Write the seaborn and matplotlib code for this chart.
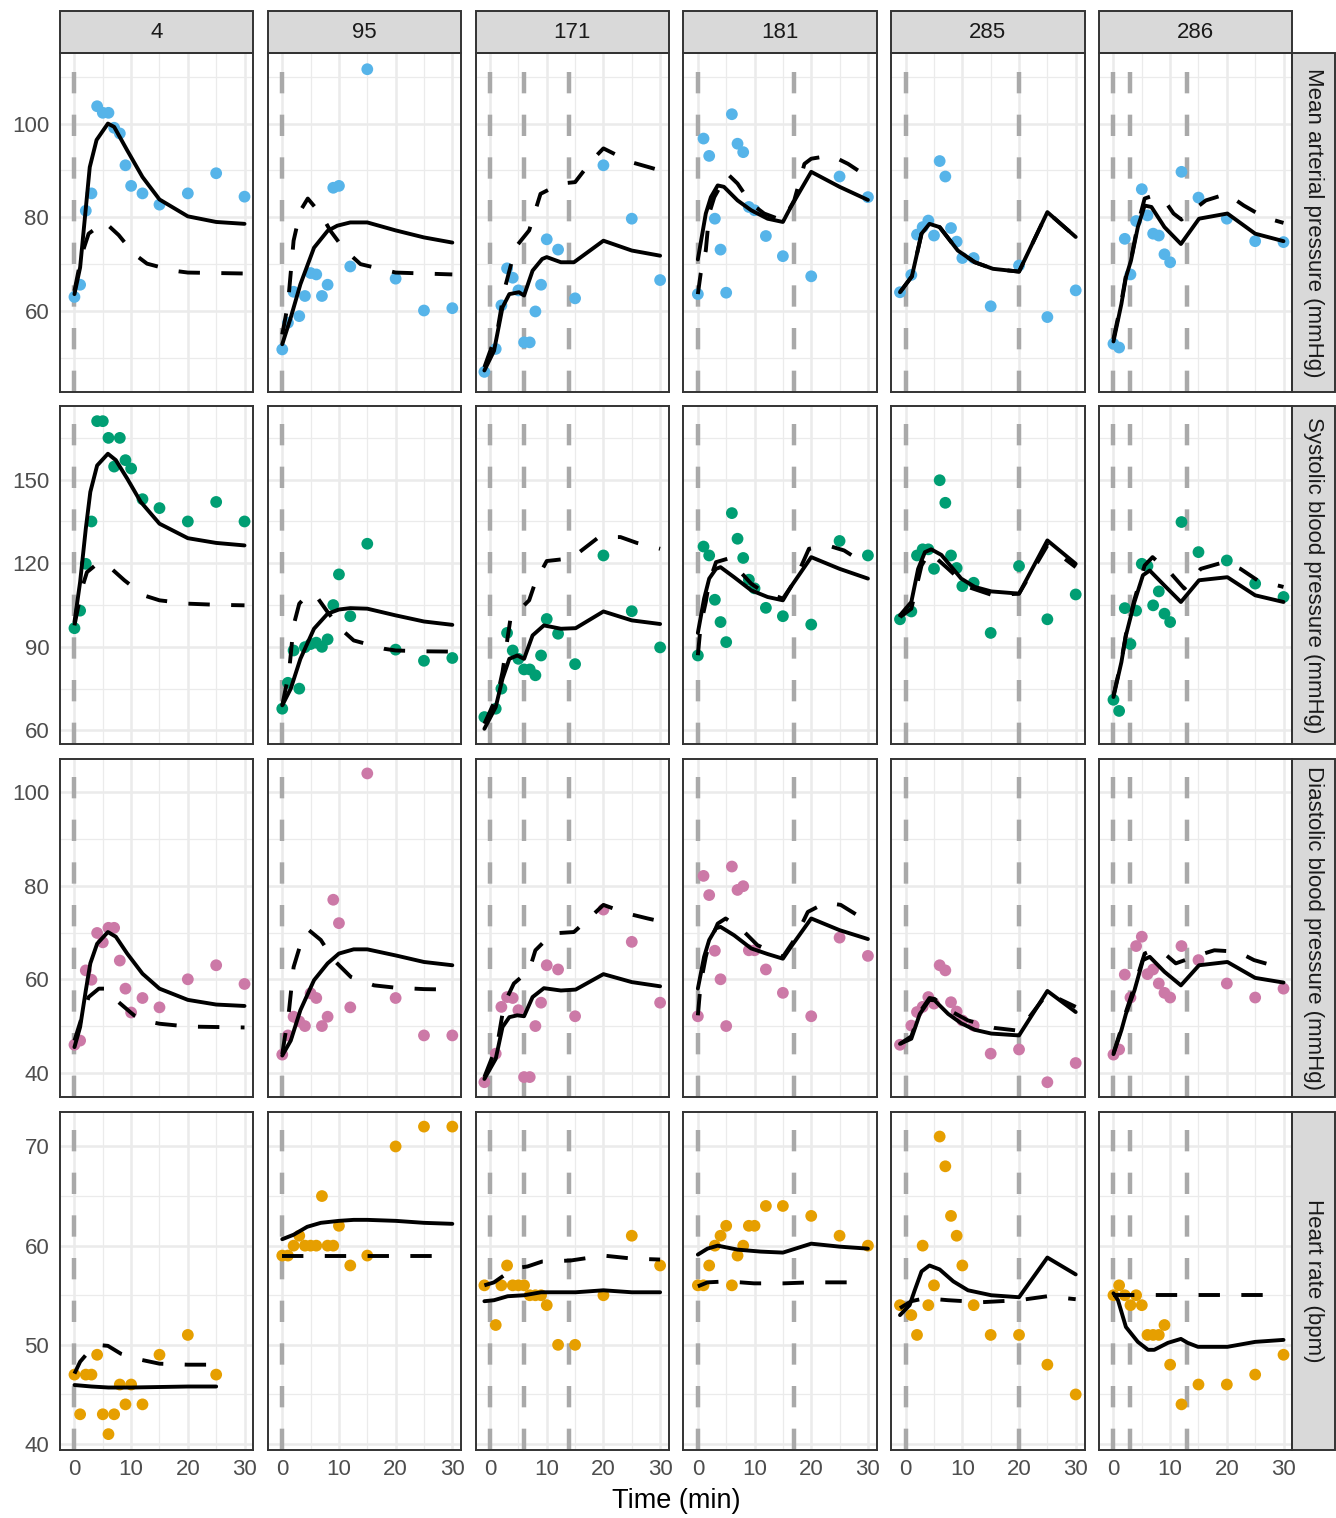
import numpy as np
import pandas as pd
import seaborn as sns
import matplotlib.pyplot as plt
from matplotlib.patches import Rectangle

# subjects (columns) and measures (rows)
subjects = ['4', '95', '171', '181', '285', '286']
measures = ['Mean arterial pressure (mmHg)', 'Systolic blood pressure (mmHg)',
            'Diastolic blood pressure (mmHg)', 'Heart rate (bpm)']
point_colors = ['#56B4E9', '#009E73', '#CC79A7', '#E69F00']

# observation times
t_std = [0, 1, 2, 3, 4, 5, 6, 7, 8, 9, 10, 12, 15, 20, 25, 30]
t_early = [-1, 1, 2, 3, 4, 5, 6, 7, 8, 9, 10, 12, 15, 20, 25, 30]
obs_times = {'4': t_std, '95': t_std, '171': t_early, '181': t_std, '285': t_early, '286': t_std}
hr4_times = [0, 1, 2, 3, 4, 5, 6, 7, 8, 9, 10, 12, 15, 20, 25]

# dosing times (grey dashed verticals)
dose_times = {'4': [0], '95': [0], '171': [0, 6, 14], '181': [0, 17], '285': [0, 20], '286': [0, 3, 13]}

# observed values
map_obs = {
    '4': [63.0, 65.6, 81.4, 85.1, 103.7, 102.3, 102.3, 99.1, 97.9, 91.1, 86.7, 85.1, 82.7, 85.1, 89.4, 84.4],
    '95': [51.8, 57.5, 64.1, 58.9, 63.2, 68.1, 67.8, 63.2, 65.6, 86.3, 86.7, 69.5, 111.6, 66.9, 60.1, 60.6],
    '171': [47.0, 51.9, 61.2, 69.1, 67.1, 64.4, 53.3, 53.3, 59.9, 65.6, 75.3, 73.1, 62.7, 91.1, 79.7, 66.6],
    '181': [63.6, 96.8, 93.1, 79.7, 73.1, 63.9, 102.0, 95.7, 93.9, 82.2, 81.5, 76.0, 71.7, 67.4, 88.7, 84.3],
    '285': [64.0, 67.7, 76.3, 77.9, 79.3, 76.1, 92.0, 88.7, 77.7, 74.8, 71.3, 71.3, 61.0, 69.7, 58.7, 64.4],
    '286': [53.0, 52.2, 75.4, 67.8, 79.2, 86.0, 80.4, 76.5, 76.1, 72.1, 70.4, 89.7, 84.2, 79.7, 74.9, 74.7],
}
sbp_obs = {
    '4': [96.7, 103, 119.8, 135, 171, 171, 165, 154.7, 165, 157, 154, 143, 139.8, 135, 142, 135],
    '95': [67.8, 77.1, 88.7, 75, 89.9, 91, 91.5, 90, 92.7, 105, 116, 101, 127, 89, 85, 86],
    '171': [64.8, 67.8, 75, 95, 88.7, 85.7, 81.9, 81.9, 79.8, 86.9, 100, 94.7, 83.8, 122.8, 102.8, 89.8],
    '181': [86.9, 126, 122.8, 106.9, 98.9, 91.7, 138, 128.8, 121.9, 114.1, 111, 104, 101, 98, 128, 122.8],
    '285': [99.9, 102.7, 122.8, 125, 125, 118, 149.8, 141.7, 122.8, 118.3, 111.8, 113, 95, 119, 99.9, 108.8],
    '286': [71, 67, 103.9, 91, 103, 119.8, 119, 104.9, 109.9, 101.9, 98.9, 134.8, 124, 121, 112.7, 107.9],
}
dbp_obs = {
    '4': [46, 46.9, 61.9, 59.9, 69.9, 67.9, 71, 71, 64, 58, 52.9, 56, 54, 60, 63, 59],
    '95': [43.9, 48, 52, 51, 50, 57, 56, 50, 52, 77, 72, 54, 104, 56, 48, 48],
    '171': [38, 44.1, 54.1, 56.2, 56, 53.4, 39.1, 39.1, 50, 55, 63, 62.1, 52.1, 74.9, 68, 55],
    '181': [52.1, 82.1, 78, 66.1, 60, 50, 84.1, 79.1, 79.9, 66.2, 66.2, 62.1, 57.1, 52.1, 68.9, 65],
    '285': [46, 50.1, 53, 54.1, 56.2, 54.8, 63, 61.9, 55.1, 53.1, 51.2, 50.1, 44.1, 45, 38, 42.1],
    '286': [43.9, 45, 61, 56.1, 67.1, 69.1, 61.1, 62.1, 59.1, 57.1, 56.1, 67.1, 64.1, 59.1, 56.1, 58],
}
hr_obs = {
    '4': [47, 43, 47, 47, 49, 43, 41, 43, 46, 44, 46, 44, 49, 51, 47],
    '95': [59, 59, 60, 61, 60, 60, 60, 65, 60, 60, 62, 58, 59, 70, 72, 72],
    '171': [56, 52, 56, 58, 56, 56, 56, 55, 55, 55, 54, 50, 50, 55, 61, 58],
    '181': [56, 56, 58, 60, 61, 62, 56, 59, 60, 62, 62, 64, 64, 63, 61, 60],
    '285': [54, 53, 51, 60, 54, 56, 71, 68, 63, 61, 58, 54, 51, 51, 48, 45],
    '286': [55, 56, 55, 54, 55, 54, 51, 51, 51, 52, 48, 44, 46, 46, 47, 49],
}

# model predictions: solid = individual fit, dashed = population fit  (time, value)
map_solid = {
    '4': ([0, 1, 2.7, 3.9, 5.9, 7, 9.3, 12, 15, 20, 25, 30],
          [63.6, 69.3, 90.7, 96.5, 100, 99.3, 94.3, 88.6, 83.8, 80.2, 79, 78.6]),
    '95': ([0, 1.5, 3.2, 5.6, 8, 9.7, 12, 15, 20, 25, 30],
           [52.9, 58.6, 65.7, 73.5, 77.1, 78.2, 78.9, 78.9, 77.2, 75.7, 74.6]),
    '171': ([-1, 0.7, 2.2, 3.4, 5.1, 6, 7.5, 9.2, 10, 12.5, 14.8, 20, 25, 30],
            [47.3, 51.5, 60.8, 63.6, 64, 63.3, 68.6, 71.1, 71.5, 70.4, 70.4, 75, 72.9, 71.8]),
    '181': ([0, 1.4, 2.3, 3.5, 4.6, 7, 9.4, 12.3, 15, 16.4, 20, 25, 30],
            [71, 80.8, 84.3, 86.8, 86.5, 83.6, 81.5, 79.7, 79, 82.2, 89.7, 86.5, 83.7]),
    '285': ([-1, 1.1, 2.8, 4.2, 6, 9.2, 12.2, 15.4, 20, 25, 30],
            [64, 67.4, 76.5, 78.6, 77.9, 72.9, 70.4, 69, 68.4, 81.1, 75.8]),
    '286': ([0, 1.4, 2.2, 3.1, 4.3, 5.5, 6.7, 9, 11.9, 15.1, 20.1, 25, 30],
            [53.5, 61.5, 67.2, 70.8, 77.9, 82.5, 82.2, 77.9, 74.3, 79.7, 80.8, 76.5, 74.9]),
}
map_dashed = {
    '4': ([0, 1.3, 2.5, 5.3, 7.8, 10.5, 12.8, 17.5, 20, 25, 30],
          [64.3, 72.1, 76.5, 79, 76.2, 72.2, 70.1, 68.6, 68.2, 68.1, 68]),
    '95': ([0, 1, 2, 3.2, 4.5, 6.8, 8.5, 10.9, 13.8, 20, 25, 30],
           [55, 61.4, 75, 81.4, 84, 80.7, 77.1, 73.2, 70, 68.2, 68, 67.8]),
    '171': ([-1, 1.3, 2.5, 4.5, 6.9, 8.9, 12.5, 15, 18, 20, 24.8, 28, 30],
            [48, 55.8, 64.4, 73.6, 77.2, 85, 87.2, 87.5, 92.2, 94.7, 91.8, 90.7, 90]),
    '181': ([0, 0.5, 1.4, 2, 2.9, 5.2, 7, 9.4, 11.7, 15, 17, 18.8, 20, 23.5, 26.5, 30],
            [63.6, 68, 72.9, 80.8, 84.3, 89.3, 87.2, 82.9, 80.8, 79.3, 83.6, 91.4, 92.5, 93.2, 91.4, 88.6]),
    '285': ([-1, 1.1, 2.8, 4.2, 6, 9.2, 12.2, 15.4, 20, 25, 30],
            [64, 67.4, 76.5, 78.6, 77.9, 72.9, 70.4, 69, 68.4, 81.1, 75.8]),
    '286': ([0, 1.4, 2.2, 3.1, 4.3, 5.5, 6.7, 9, 10.6, 12, 13.6, 16.3, 20, 23, 26.6, 30],
            [54, 62, 67.5, 71, 78.5, 84, 84.5, 83.6, 80.8, 79.5, 81.1, 83.6, 85, 82.5, 80, 78.8]),
}
sbp_solid = {
    '4': ([0, 1, 2, 2.8, 4, 5.9, 7.3, 9.3, 11.7, 15, 20, 25, 30],
          [98.9, 113.3, 132.4, 145.6, 155.1, 159.3, 157, 150.4, 142, 134.2, 129, 127.3, 126.4]),
    '95': ([0, 1.5, 3.2, 5.6, 8, 10, 12, 15, 20, 25, 30],
           [69, 75, 85.7, 96.5, 101.9, 103.4, 103.9, 103.7, 101.3, 99.1, 97.9]),
    '171': ([-1, 1, 2.2, 3.4, 4.8, 6, 7.5, 9.5, 12.5, 15.1, 20, 25, 30],
            [60.6, 68.4, 78.6, 85.7, 86.9, 85.7, 94.1, 97.7, 96.5, 96.7, 102.7, 99.5, 98.2]),
    '181': ([0, 1.1, 2, 3.2, 4, 6.4, 9.4, 12.3, 15, 16.4, 20, 25, 30],
            [95, 107.3, 114.5, 118, 118.6, 115, 110.3, 107.9, 106.7, 111.5, 122.2, 118, 114.5]),
    '285': ([-1, 1, 2.2, 3.4, 4.5, 6.3, 9.8, 12.2, 15.1, 20, 25, 30],
            [101.3, 106.1, 118, 124, 125, 123, 114.5, 111.5, 109.9, 109.1, 128.2, 119.8]),
    '286': ([0, 1.4, 2.2, 3.7, 5.2, 6.4, 9, 11.9, 15.1, 20.1, 25, 30],
            [72, 84.5, 94.1, 106.1, 115.7, 117.4, 112, 106.1, 113.9, 115, 108.5, 106.1]),
}
sbp_dashed = {
    '4': ([0, 1.3, 2.2, 4, 5.9, 8.8, 12.2, 15, 20, 25, 30],
          [97.7, 110.9, 116.8, 119.8, 119.2, 113.9, 108.5, 106.7, 105.5, 105.1, 104.9]),
    '95': ([0, 1.2, 2, 3, 4.4, 5.9, 8, 10.3, 12.6, 18, 20, 25, 30],
           [69, 81, 97.7, 105.5, 108.5, 108.5, 102.5, 96.5, 92.3, 89.3, 88.7, 88.4, 88.3]),
    '171': ([-1, 1.3, 2.2, 3.6, 6.9, 8, 10, 13.5, 15, 19.2, 23, 25.9, 30],
            [62.4, 72.6, 81, 100.1, 106.7, 113.3, 120.8, 121.6, 122.8, 129.4, 129.4, 127.3, 125.2]),
    '181': ([0, 0.5, 1.4, 2, 3.2, 5.2, 7, 9.4, 11.1, 15, 17, 19.6, 22.9, 25.8, 30],
            [87, 97.7, 106.1, 113.3, 120.4, 121.6, 118, 112.7, 110.3, 107.3, 113.3, 125.2, 126.4, 124.6, 119.2]),
    '285': ([-1, 1, 2.8, 4.2, 7.5, 11, 15.4, 20, 25, 30],
            [100.7, 103.7, 119.2, 124, 118, 111.5, 108.5, 109.1, 126.4, 118.6]),
    '286': ([0, 1.4, 2.2, 3.7, 5.5, 6.9, 10.2, 12.5, 15.4, 19.5, 22.4, 25.4, 30],
            [72.5, 85, 94.5, 107, 119.2, 122.2, 116.2, 110.9, 118, 120.4, 118, 113.9, 111.5]),
}
dbp_solid = {
    '4': ([0, 1, 2, 2.8, 4, 5.9, 7.3, 9.3, 12, 15, 20, 25, 30],
          [45.5, 49.8, 57.6, 63.4, 67.6, 70.1, 69.1, 65.5, 61.2, 58, 55.6, 54.6, 54.3]),
    '95': ([0, 1.5, 3.2, 5.6, 8, 10, 12.6, 15, 20, 25, 30],
           [43.7, 46.9, 53.4, 59.8, 63.4, 65.5, 66.4, 66.4, 65.1, 63.7, 63]),
    '171': ([-1, 1, 2.2, 3.4, 4.8, 6, 7.5, 9.5, 12.5, 15.1, 20, 25, 30],
            [38.7, 43, 49.8, 51.9, 52.3, 52.1, 56.2, 58.1, 57.6, 57.8, 61.1, 59.4, 58.5]),
    '181': ([0, 1.1, 2, 3.2, 4, 6.4, 9.4, 12.3, 15, 16.4, 20, 25, 30],
            [58, 64.8, 68.4, 70.9, 71.2, 69.4, 66.6, 65.4, 64.4, 66.9, 73, 70.5, 68.6]),
    '285': ([-1, 1, 2.5, 4.2, 5.1, 7.5, 9.8, 12.2, 15.1, 20, 25, 30],
            [46.2, 47.3, 52.6, 55.6, 55.5, 52.6, 50.6, 49.2, 48.4, 48, 57.5, 53]),
    '286': ([0, 1.4, 2.2, 3.7, 5.2, 6.4, 9, 11.9, 15.1, 20.1, 25, 30],
            [44, 49.1, 52.6, 57.6, 64.1, 64.8, 61.6, 58.7, 63, 63.7, 60.3, 59.3]),
}
dbp_dashed = {
    '4': ([0, 1.3, 2.5, 4.3, 5.9, 7.8, 10.5, 13.4, 15, 20, 25, 30],
          [46.9, 51.9, 56.2, 58, 58, 55.1, 52.3, 50.9, 50.5, 49.9, 49.8, 49.7]),
    '95': ([0, 1.2, 2, 3, 4.7, 6.8, 9.1, 12.1, 16.2, 20, 25, 30],
           [44, 53.4, 62.6, 66.6, 70.5, 68.4, 64.1, 60.5, 58.7, 58.2, 57.9, 57.8]),
    '171': ([-1, 1.3, 2.5, 4.2, 6.9, 8, 11, 14.8, 17.8, 20, 24.1, 27.8, 30],
            [39.1, 46.2, 54.8, 59.1, 61.9, 66.2, 69.8, 70.1, 73.4, 75.9, 74.1, 73, 72.4]),
    '181': ([0, 0.5, 1.4, 2, 3.5, 4.9, 8.2, 10.5, 15, 17, 19.4, 22.6, 25.2, 30],
            [52.3, 59.1, 64.8, 67.6, 71.9, 73, 70.1, 67.3, 64.8, 68.4, 74.4, 76.4, 75.9, 72.3]),
    '285': ([-1, 1, 2.5, 4.2, 5.1, 7.5, 11, 15.7, 20, 25, 30],
            [46.2, 47.8, 53, 56, 55.8, 53.5, 51.2, 49.6, 49, 57, 54.1]),
    '286': ([0, 1.4, 2.2, 3.7, 5.5, 6.5, 9, 11, 14.9, 17.8, 21.9, 24.8, 30],
            [44.2, 49.5, 53, 58.5, 65.5, 66, 65.5, 63.4, 65.1, 66.2, 65.9, 64.1, 62.3]),
}
hr_solid = {
    '4': ([0, 3, 6, 10, 15, 20, 25], [45.95, 45.8, 45.7, 45.7, 45.75, 45.8, 45.8]),
    '95': ([0, 2, 4.4, 6.8, 10, 12.6, 15, 20, 25, 30],
           [60.65, 61.1, 61.9, 62.3, 62.5, 62.6, 62.6, 62.5, 62.3, 62.2]),
    '171': ([-1, 0.7, 3.1, 6, 9, 15.1, 20, 25, 30],
            [54.4, 54.5, 54.9, 55, 55.3, 55.3, 55.5, 55.3, 55.3]),
    '181': ([0, 1.7, 3.5, 7, 11.1, 15, 20, 25, 30],
            [59.1, 59.7, 60, 59.6, 59.4, 59.3, 60.2, 59.9, 59.7]),
    '285': ([-1, 0.7, 1.6, 2.8, 4.2, 6, 8.4, 11, 15.1, 20, 25, 30],
            [53, 54, 55.5, 57.4, 58, 57.6, 56.4, 55.5, 55, 54.8, 58.8, 57.1]),
    '286': ([0, 0.8, 2.2, 4.3, 6.1, 7.2, 9.6, 11.9, 13.1, 14.9, 20.1, 25, 30],
            [55.2, 54.5, 51.8, 50.3, 49.5, 49.5, 50.2, 50.6, 50.2, 49.8, 49.8, 50.3, 50.5]),
}
hr_dashed = {
    '4': ([0, 1, 2.2, 4, 5.9, 8.2, 11.7, 15, 20, 25],
          [47.1, 48.3, 49.1, 50, 49.9, 49.1, 48.5, 48.1, 48, 48]),
    '95': ([0, 30], [59, 59]),
    '171': ([-1, 0.7, 2.2, 4.2, 6.6, 9.2, 14.2, 20, 25, 30],
            [56, 56.3, 56.9, 57.7, 57.9, 58.4, 58.5, 59, 58.7, 58.6]),
    '181': ([0, 1.7, 5.2, 9.9, 15.1, 20, 30], [55.9, 56.3, 56.4, 56.2, 56.2, 56.3, 56.3]),
    '285': ([-1, 1, 3.4, 7.5, 13.4, 20, 25, 30], [53.7, 54.4, 54.7, 54.5, 54.3, 54.5, 54.9, 54.6]),
    '286': ([0, 30], [55, 55]),
}

obs_by_row = [map_obs, sbp_obs, dbp_obs, hr_obs]
solid_by_row = [map_solid, sbp_solid, dbp_solid, hr_solid]
dashed_by_row = [map_dashed, sbp_dashed, dbp_dashed, hr_dashed]

ylims = [(42.8, 115.0), (55.0, 176.4), (34.8, 107.1), (39.4, 73.5)]
yticks = [[60, 80, 100], [60, 90, 120, 150], [40, 60, 80, 100], [40, 50, 60, 70]]
yminor = [[50, 70, 90, 110], [75, 105, 135, 165], [50, 70, 90], [45, 55, 65]]

sns.set_theme(style='white')
plt.rcParams['font.family'] = ['Liberation Sans', 'DejaVu Sans']

W, H = 1336, 1518
fig, axes = plt.subplots(4, 6, figsize=(W / 100, H / 100), dpi=100, sharex=True, sharey='row')
fig.subplots_adjust(left=60 / W, right=1292.3 / W, top=1 - 53.3 / H, bottom=1 - 1450 / H,
                    wspace=0.075, hspace=0.043)

dash_black = (0, (5.5, 5.5))
dash_grey = (0, (4.8, 4.8))

for r in range(4):
    for c, subj in enumerate(subjects):
        ax = axes[r, c]
        times = hr4_times if (r == 3 and subj == '4') else obs_times[subj]
        df_obs = pd.DataFrame({'time': times, 'value': obs_by_row[r][subj]})
        st, sv = solid_by_row[r][subj]
        dt, dv = dashed_by_row[r][subj]
        df_solid = pd.DataFrame({'time': st, 'value': sv})
        df_dash = pd.DataFrame({'time': dt, 'value': dv})

        for t in dose_times[subj]:
            ax.axvline(t, color='#A9A9A9', lw=3.2, linestyle=dash_grey, zorder=1.5)
        sns.scatterplot(data=df_obs, x='time', y='value', color=point_colors[r], s=72,
                        edgecolor='none', linewidth=0, ax=ax, zorder=2, legend=False)
        sns.lineplot(data=df_solid, x='time', y='value', color='black', lw=2.8,
                     estimator=None, sort=False, ax=ax, zorder=3)
        sns.lineplot(data=df_dash, x='time', y='value', color='black', lw=2.8,
                     linestyle=dash_black, estimator=None, sort=False, ax=ax, zorder=3)

        ax.set_xlim(-2.55, 31.55)
        ax.set_ylim(*ylims[r])
        ax.set_xticks([0, 10, 20, 30])
        ax.set_xticks([5, 15, 25], minor=True)
        ax.set_yticks(yticks[r])
        ax.set_yticks(yminor[r], minor=True)
        ax.grid(True, which='major', color='#EBEBEB', lw=1.8)
        ax.grid(True, which='minor', color='#EBEBEB', lw=0.9)
        ax.set_axisbelow(True)
        ax.set_xlabel('')
        ax.set_ylabel('')
        for sp in ax.spines.values():
            sp.set_color('#333333')
            sp.set_linewidth(1.4)
        ax.tick_params(which='minor', length=0)
        ax.tick_params(which='major', colors='#333333', labelcolor='#4D4D4D',
                       labelsize=16, length=2.75, width=1.0)
        ax.tick_params(axis='y', pad=5)
        ax.tick_params(axis='x', pad=4)
        if c > 0:
            ax.tick_params(axis='y', left=False, labelleft=False)
        if r < 3:
            ax.tick_params(axis='x', bottom=False, labelbottom=False)

        # facet strips
        if r == 0:
            sh = 42.3 / 338.4
            ax.add_patch(Rectangle((0, 1), 1, sh, transform=ax.transAxes, clip_on=False,
                                   facecolor='#D9D9D9', edgecolor='#333333', lw=1.4))
            ax.text(0.5, 1 + sh / 2, subj, transform=ax.transAxes, ha='center', va='center',
                    fontsize=16, color='#1A1A1A')
        if c == 5:
            sw = 42.7 / 193.3
            ax.add_patch(Rectangle((1, 0), sw, 1, transform=ax.transAxes, clip_on=False,
                                   facecolor='#D9D9D9', edgecolor='#333333', lw=1.4))
            ax.text(1 + sw / 2, 0.5, measures[r], transform=ax.transAxes, ha='center',
                    va='center', rotation=-90, fontsize=16, color='#1A1A1A')

fig.text((60 + 1292.3) / 2 / W, 1 - 1501 / H, 'Time (min)', ha='center', va='center',
         fontsize=19.5, color='black')

fig.savefig('out.png', dpi=100)
